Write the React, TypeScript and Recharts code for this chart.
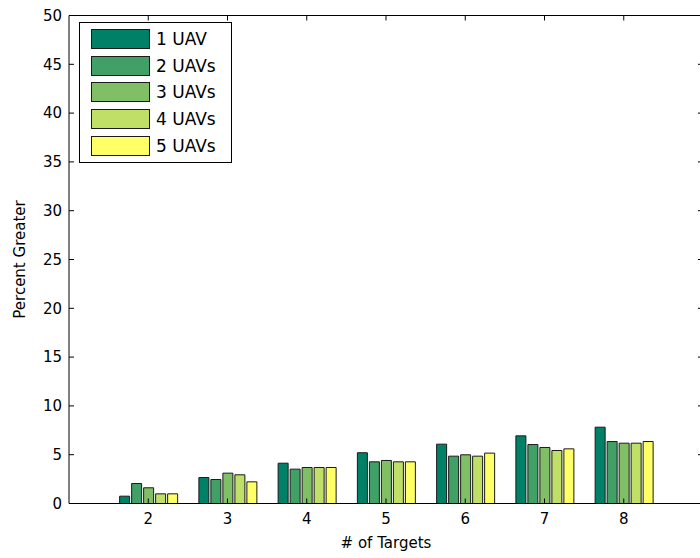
import { Bar, BarChart, Legend, XAxis, YAxis } from "recharts";

const targets = [2, 3, 4, 5, 6, 7, 8];
const uav1 = [0.75, 2.66, 4.13, 5.2, 6.08, 6.93, 7.82];
const uav2 = [2.05, 2.46, 3.52, 4.27, 4.85, 6.04, 6.35];
const uav3 = [1.61, 3.11, 3.69, 4.41, 4.99, 5.74, 6.18];
const uav4 = [0.99, 2.94, 3.69, 4.27, 4.85, 5.43, 6.18];
const uav5 = [0.99, 2.22, 3.69, 4.27, 5.16, 5.6, 6.35];

const seriesNames = ["1 UAV", "2 UAVs", "3 UAVs", "4 UAVs", "5 UAVs"];
const seriesKeys = ["u1", "u2", "u3", "u4", "u5"];
// matlab "summer" colormap, 5 steps
const seriesColors = ["#008066", "#40a066", "#80bf66", "#bfdf66", "#ffff66"];
const yTicks = [0, 5, 10, 15, 20, 25, 30, 35, 40, 45, 50];

const data = targets.map((t, i) => ({
    targets: t,
    u1: uav1[i],
    u2: uav2[i],
    u3: uav3[i],
    u4: uav4[i],
    u5: uav5[i],
}));

const font = "'DejaVu Sans', sans-serif";
const noLabel = () => "";

function renderLegend() {
    return (
        <div
            style={{
                border: "1px solid #000",
                background: "#fff",
                padding: "6px 8px 6px 11px",
                fontFamily: font,
                fontSize: 17,
                color: "#000",
            }}
        >
            {seriesNames.map((name, i) => (
                <div
                    key={name}
                    style={{
                        display: "flex",
                        alignItems: "center",
                        height: 20,
                        marginTop: i === 0 ? 0 : 6.7,
                    }}
                >
                    <span
                        style={{
                            display: "inline-block",
                            width: 57,
                            height: 18,
                            background: seriesColors[i],
                            border: "1px solid #1a1a1a",
                            marginRight: 6,
                        }}
                    />
                    <span>{name}</span>
                </div>
            ))}
        </div>
    );
}

export default function App() {
    return (
        <div
            style={{
                position: "absolute",
                left: 0,
                top: 0,
                width: 700,
                height: 558,
                overflow: "hidden",
                background: "#fff",
            }}
        >
            <BarChart
                width={720}
                height={558}
                data={data}
                margin={{ top: 14.5, right: 16, bottom: 4.5, left: 0 }}
                barSize={10}
                barGap={2}
                style={{ fontFamily: font }}
            >
                <XAxis
                    dataKey="targets"
                    type="number"
                    domain={[1, 9]}
                    ticks={targets}
                    interval={0}
                    allowDataOverflow
                    height={50}
                    tickSize={-5}
                    tickMargin={14.5}
                    axisLine={{ stroke: "#000" }}
                    tickLine={{ stroke: "#000" }}
                    tick={{ fill: "#000", fontSize: 15 }}
                    label={{
                        value: "# of Targets",
                        position: "insideBottom",
                        offset: 5.5,
                        style: { fill: "#000", fontSize: 15 },
                    }}
                />
                {/* box edges: top and right axes, ticks only */}
                <XAxis
                    xAxisId="top"
                    orientation="top"
                    dataKey="targets"
                    type="number"
                    domain={[1, 9]}
                    ticks={targets}
                    interval={0}
                    allowDataOverflow
                    height={1}
                    tickSize={-5}
                    tickFormatter={noLabel}
                    axisLine={{ stroke: "#000" }}
                    tickLine={{ stroke: "#000" }}
                />
                <YAxis
                    domain={[0, 50]}
                    ticks={yTicks}
                    interval={0}
                    allowDataOverflow
                    width={69}
                    tickSize={-5}
                    tickMargin={12}
                    axisLine={{ stroke: "#000" }}
                    tickLine={{ stroke: "#000" }}
                    tick={{ fill: "#000", fontSize: 15 }}
                    label={{
                        value: "Percent Greater",
                        angle: -90,
                        position: "insideLeft",
                        offset: 20,
                        style: { textAnchor: "middle", fill: "#000", fontSize: 15 },
                    }}
                />
                <YAxis
                    yAxisId="right"
                    orientation="right"
                    domain={[0, 50]}
                    ticks={yTicks}
                    interval={0}
                    allowDataOverflow
                    width={1}
                    tickSize={-5}
                    tickFormatter={noLabel}
                    axisLine={{ stroke: "#000" }}
                    tickLine={{ stroke: "#000" }}
                />
                <Legend
                    content={renderLegend}
                    layout="vertical"
                    align="center"
                    verticalAlign="middle"
                    wrapperStyle={{ left: 79, top: 22, width: 153, height: "auto" }}
                />
                {seriesKeys.map((k, i) => (
                    <Bar
                        key={k}
                        dataKey={k}
                        name={seriesNames[i]}
                        fill={seriesColors[i]}
                        stroke="#1a1a1a"
                        strokeWidth={1}
                        isAnimationActive={false}
                    />
                ))}
            </BarChart>
        </div>
    );
}
